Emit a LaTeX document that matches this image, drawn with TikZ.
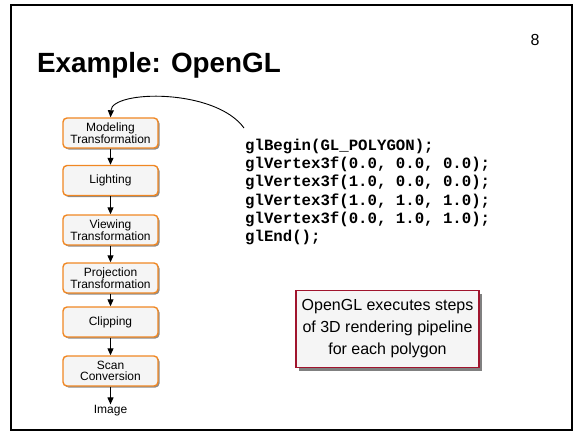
\documentclass[tikz,border=0pt]{standalone}
\usepackage{fontspec}
\setmainfont{Liberation Sans}
\setsansfont{Liberation Sans}
\setmonofont{Liberation Mono}
\newcommand\codesetup{\fontsize{15.7}{18.2}\selectfont\ttfamily\bfseries}
\usetikzlibrary{arrows.meta,shadows}
\definecolor{stepor}{RGB}{240,135,35}
\definecolor{stepfill}{RGB}{245,245,245}
\definecolor{notered}{RGB}{160,20,45}
\tikzset{
  x=1pt, y=-1pt,
  stepbox/.style={draw=stepor, line width=1.4pt, fill=stepfill, rounded corners=4pt,
    minimum width=95pt, minimum height=30pt, inner sep=1pt, align=center,
    font=\fontsize{12}{11.5}\selectfont,
    drop shadow={shadow xshift=1.5pt, shadow yshift=-1.5pt, fill=black!45, opacity=1}},
  flow/.style={-{Triangle[length=7pt,width=6pt]}, line width=1pt},
  notebox/.style={draw=notered, line width=1.3pt, fill=stepfill, align=center,
    minimum width=183pt, minimum height=77pt, inner sep=2pt,
    font=\fontsize{16}{22}\selectfont,
    drop shadow={shadow xshift=3pt, shadow yshift=-3pt, fill=black!50, opacity=1}},
}
\begin{document}
\begin{tikzpicture}
\useasboundingbox (0,0) rectangle (583,433);
\draw[line width=1.8pt] (11,5) rectangle (572,430);
\node[anchor=base west, font=\fontsize{27.8}{30}\selectfont\bfseries, inner sep=0] (title) at (37,73) {Example: OpenGL};
\node[font=\fontsize{16}{18}\selectfont, inner sep=0] (pageno) at (535,40) {8};

\node[stepbox] (model) at (110.5,133) {Modeling\\Transformation};
\node[stepbox] (light) at (110.5,180.5) {Lighting};
\node[stepbox] (view) at (110.5,230) {Viewing\\Transformation};
\node[stepbox] (proj) at (110.5,278) {Projection\\Transformation};
\node[stepbox] (clip) at (110.5,322) {Clipping};
\node[stepbox] (scan) at (110.5,371) {Scan\\Conversion};
\node[font=\fontsize{12}{14}\selectfont, inner sep=1pt] (image) at (110.5,411) {Image};

\draw[flow] (model) -- (light);
\draw[flow] (light) -- (view);
\draw[flow] (view) -- (proj);
\draw[flow] (proj) -- (clip);
\draw[flow] (clip) -- (scan);
\draw[flow] (scan) -- (image);

\node[anchor=north west, align=left, inner sep=0, font=\codesetup] (code) at (245,139)
{glBegin(GL\_POLYGON);\\
glVertex3f(0.0, 0.0, 0.0);\\
glVertex3f(1.0, 0.0, 0.0);\\
glVertex3f(1.0, 1.0, 1.0);\\
glVertex3f(0.0, 1.0, 1.0);\\
glEnd();};

\coordinate (cstart) at (244,128);
\draw[flow, line width=0.9pt] (cstart) .. controls (215,88) and (112,90) .. (model.north);

\node[notebox] (note) at (387.5,329) {OpenGL executes steps\\of 3D rendering pipeline\\for each polygon};
\end{tikzpicture}
\end{document}
